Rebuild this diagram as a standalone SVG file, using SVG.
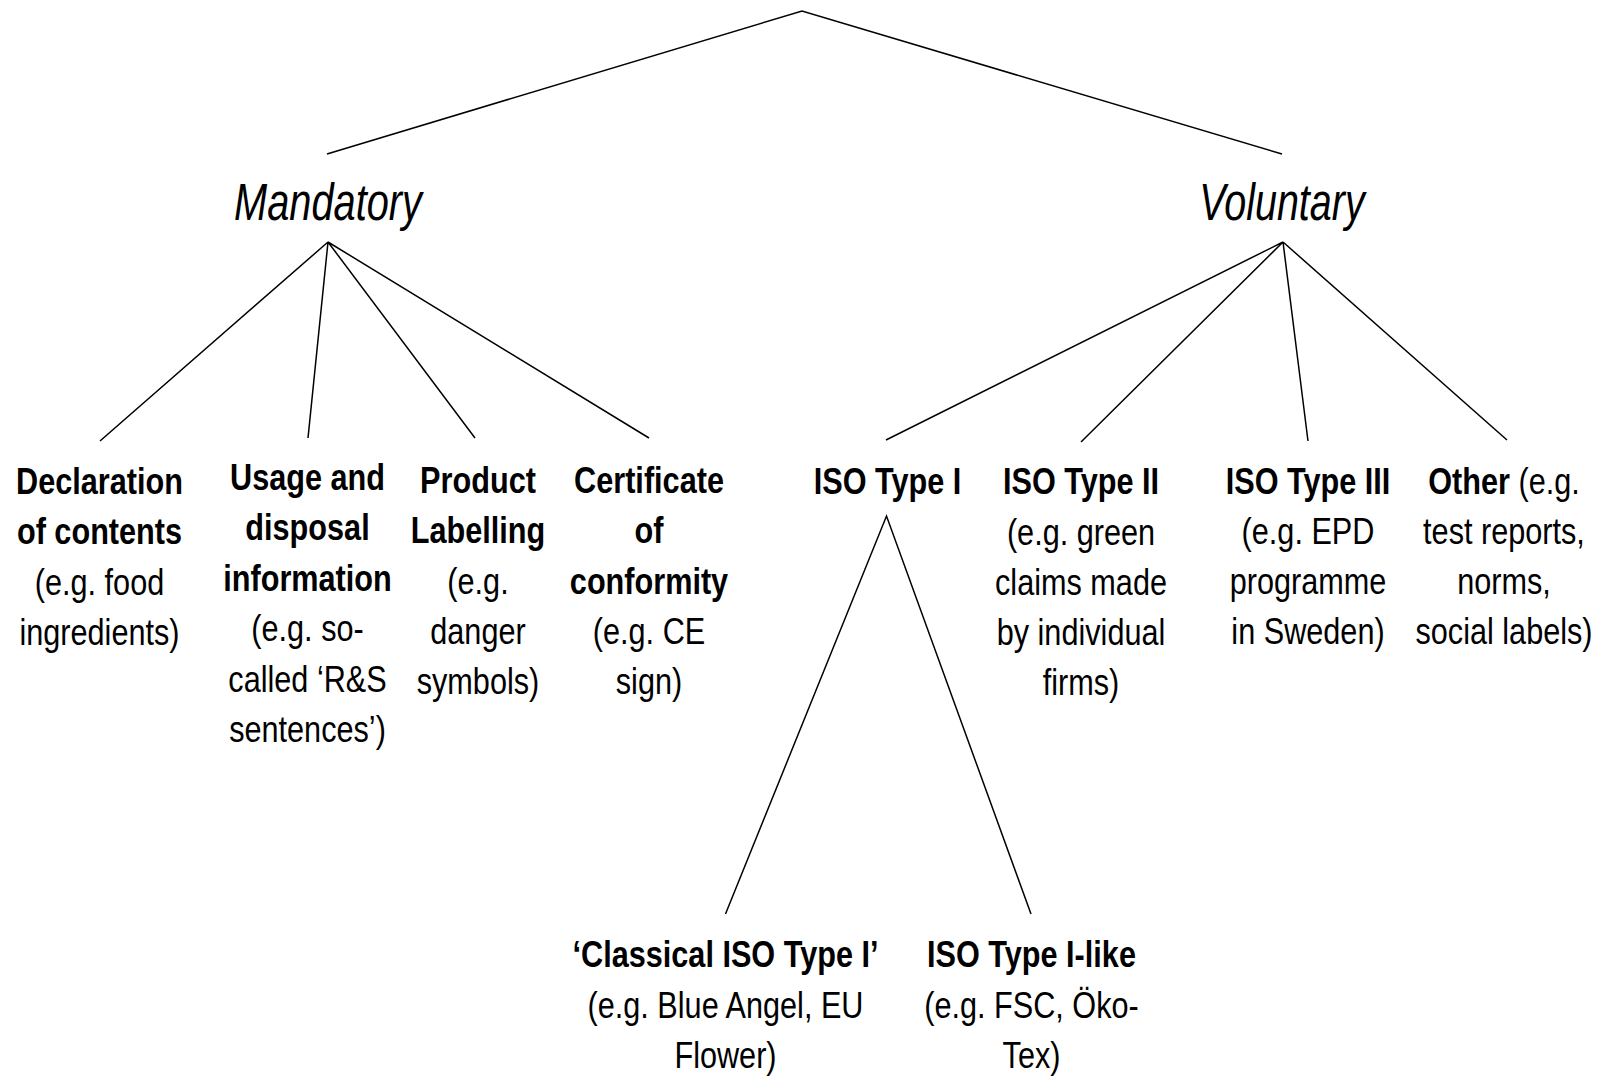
<svg xmlns="http://www.w3.org/2000/svg" width="1616" height="1078" viewBox="0 0 1616 1078">
<style>
text{font-family:"Liberation Sans",Arial,sans-serif;font-size:36.5px;fill:#000;text-anchor:middle}
.b{font-weight:bold}
.cat{font-size:52px;font-style:italic}
.ln{stroke:#000;stroke-width:1.5;fill:none}
</style>
<rect width="1616" height="1078" fill="#fff"/>
<g id="connectors">
<path class="ln" d="M327,154 L802,11 L1282,154"/>
<path class="ln" d="M100,441 L328,242 M308,438 L328,242 M475,438 L328,242 M649,438 L328,242"/>
<path class="ln" d="M886,440 L1283,242 M1081,442 L1283,242 M1308,441 L1283,242 M1507,440 L1283,242"/>
<path class="ln" d="M725.5,914 L886.5,516 L1031,914"/>
</g>
<g id="mandatory" transform="translate(328 0) scale(0.765 1)"><text class="cat" x="0" y="220">Mandatory</text></g>
<g id="voluntary" transform="translate(1282 0) scale(0.76 1)"><text class="cat" x="0" y="220">Voluntary</text></g>
<g id="declaration" transform="translate(99.5 0) scale(0.84 1)">
<text class="b" x="0" y="494">Declaration</text>
<text class="b" x="0" y="544">of contents</text>
<text x="0" y="595">(e.g. food</text>
<text x="0" y="645">ingredients)</text>
</g>
<g id="usage" transform="translate(307.5 0) scale(0.84 1)">
<text class="b" x="0" y="490">Usage and</text>
<text class="b" x="0" y="540">disposal</text>
<text class="b" x="0" y="591">information</text>
<text x="0" y="641">(e.g. so-</text>
<text x="0" y="692">called ‘R&amp;S</text>
<text x="0" y="742">sentences’)</text>
</g>
<g id="product" transform="translate(478 0) scale(0.84 1)">
<text class="b" x="0" y="493">Product</text>
<text class="b" x="0" y="543">Labelling</text>
<text x="0" y="594">(e.g.</text>
<text x="0" y="644">danger</text>
<text x="0" y="694">symbols)</text>
</g>
<g id="certificate" transform="translate(649 0) scale(0.84 1)">
<text class="b" x="0" y="493">Certificate</text>
<text class="b" x="0" y="543">of</text>
<text class="b" x="0" y="594">conformity</text>
<text x="0" y="644">(e.g. CE</text>
<text x="0" y="694">sign)</text>
</g>
<g id="iso1" transform="translate(887.5 0) scale(0.84 1)">
<text class="b" x="0" y="494">ISO Type I</text>
</g>
<g id="iso2" transform="translate(1081 0) scale(0.84 1)">
<text class="b" x="0" y="494">ISO Type II</text>
<text x="0" y="545">(e.g. green</text>
<text x="0" y="595">claims made</text>
<text x="0" y="645">by individual</text>
<text x="0" y="695">firms)</text>
</g>
<g id="iso3" transform="translate(1308 0) scale(0.84 1)">
<text class="b" x="0" y="494">ISO Type III</text>
<text x="0" y="544">(e.g. EPD</text>
<text x="0" y="594">programme</text>
<text x="0" y="644">in Sweden)</text>
</g>
<g id="other" transform="translate(1504 0) scale(0.84 1)">
<text x="0" y="494"><tspan class="b">Other</tspan> (e.g.</text>
<text x="0" y="544">test reports,</text>
<text x="0" y="594">norms,</text>
<text x="0" y="644">social labels)</text>
</g>
<g id="classical" transform="translate(725.5 0) scale(0.84 1)">
<text class="b" x="0" y="967">‘Classical ISO Type I’</text>
<text x="0" y="1018">(e.g. Blue Angel, EU</text>
<text x="0" y="1068">Flower)</text>
</g>
<g id="isolike" transform="translate(1031.5 0) scale(0.84 1)">
<text class="b" x="0" y="967">ISO Type I-like</text>
<text x="0" y="1018">(e.g. FSC, Öko-</text>
<text x="0" y="1068">Tex)</text>
</g>
</svg>
